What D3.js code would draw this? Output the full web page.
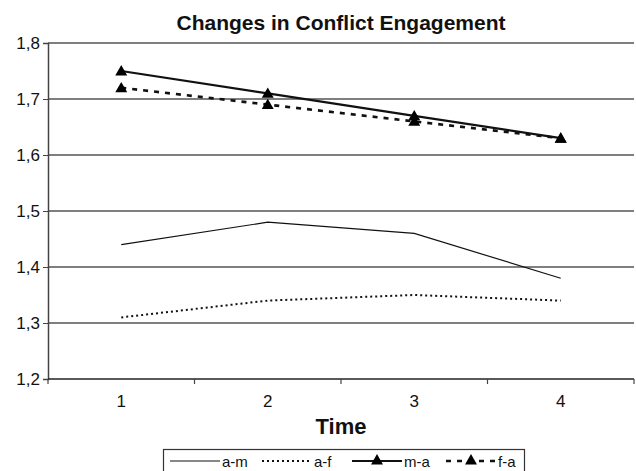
<!DOCTYPE html>
<html><head><meta charset="utf-8">
<script src="https://cdn.jsdelivr.net/npm/d3@7"></script>
<style>
html,body{margin:0;padding:0;background:#fff;}
svg{display:block;font-family:"Liberation Sans",Arial,sans-serif;}
</style></head>
<body>
<svg id="chart" width="636" height="471"></svg>
<script>
const categories = ["1", "2", "3", "4"];
const seriesNames = ["a-m", "a-f", "m-a", "f-a"];
const am = [1.44, 1.48, 1.46, 1.38];
const af = [1.31, 1.34, 1.35, 1.34];
const ma = [1.75, 1.71, 1.67, 1.63];
const fa = [1.72, 1.69, 1.66, 1.63];
const yTicks = [1.2, 1.3, 1.4, 1.5, 1.6, 1.7, 1.8];
const title = "Changes in Conflict Engagement";
const xTitle = "Time";

const series = [
  {name: seriesNames[0], values: am, width: 1.2, dash: null, marker: false},
  {name: seriesNames[1], values: af, width: 2, dash: "2,3", marker: false},
  {name: seriesNames[2], values: ma, width: 2.2, dash: null, marker: true},
  {name: seriesNames[3], values: fa, width: 2.6, dash: "5,6", marker: true}
];

const svg = d3.select("#chart");
const pLeft = 48, pRight = 634, pTop = 43, pBottom = 379;

const x = d3.scaleBand().domain(categories).range([pLeft, pRight]);
const y = d3.scaleLinear().domain([1.2, 1.8]).range([pBottom, pTop]);
const fmt = d3.formatLocale({decimal: ",", thousands: ".", grouping: [3], currency: ["", ""]}).format(".1f");

// title
svg.append("text").attr("x", (pLeft + pRight) / 2).attr("y", 30)
  .attr("text-anchor", "middle").attr("font-weight", "bold").attr("font-size", 21)
  .attr("fill", "#111").text(title);

// gridlines
svg.append("g").selectAll("line").data(yTicks.filter(d => d > 1.2)).join("line")
  .attr("x1", pLeft).attr("x2", pRight).attr("y1", d => y(d)).attr("y2", d => y(d))
  .attr("stroke", "#000").attr("stroke-width", 1.2);

// y axis
const yAxis = svg.append("g").attr("transform", `translate(${pLeft},0)`)
  .call(d3.axisLeft(y).tickValues(yTicks).tickFormat(fmt).tickSize(5).tickPadding(3));
yAxis.select(".domain").attr("stroke", "#444").attr("stroke-width", 1.5);
yAxis.selectAll(".tick line").attr("stroke", "#444");
yAxis.selectAll("text").attr("font-size", 17).attr("fill", "#111")
  .attr("font-family", "Liberation Sans, Arial, sans-serif");

// x axis line
svg.append("line").attr("x1", pLeft).attr("x2", pRight).attr("y1", pBottom).attr("y2", pBottom)
  .attr("stroke", "#222").attr("stroke-width", 1.5);
// x ticks at band boundaries
const bounds = categories.map(c => x(c)).concat([x(categories[categories.length - 1]) + x.bandwidth()]);
svg.append("g").selectAll("line").data(bounds).join("line")
  .attr("x1", d => d).attr("x2", d => d).attr("y1", pBottom).attr("y2", pBottom + 5)
  .attr("stroke", "#444").attr("stroke-width", 1.2);
// x labels
svg.append("g").selectAll("text").data(categories).join("text")
  .attr("x", d => x(d) + x.bandwidth() / 2).attr("y", 407)
  .attr("text-anchor", "middle").attr("font-size", 17).attr("fill", "#111").text(d => d);

svg.append("text").attr("x", (pLeft + pRight) / 2).attr("y", 434)
  .attr("text-anchor", "middle").attr("font-weight", "bold").attr("font-size", 22)
  .attr("fill", "#111").text(xTitle);

// lines
const cx = (d, i) => x(categories[i]) + x.bandwidth() / 2;
const line = d3.line().x(cx).y(d => y(d));
const tri = d3.symbol().type(d3.symbolTriangle).size(62);

series.forEach(s => {
  svg.append("path").datum(s.values).attr("d", line)
    .attr("fill", "none").attr("stroke", "#111").attr("stroke-width", s.width)
    .attr("stroke-dasharray", s.dash);
  if (s.marker) {
    svg.append("g").selectAll("path").data(s.values).join("path")
      .attr("d", tri).attr("transform", (d, i) => `translate(${cx(d, i)},${y(d) + 1})`)
      .attr("fill", "#000");
  }
});

// legend
const lg = svg.append("g");
lg.append("rect").attr("x", 163.5).attr("y", 449.5).attr("width", 361).attr("height", 26)
  .attr("fill", "#fff").attr("stroke", "#333").attr("stroke-width", 1.2);
const legendX = [170, 262, 352, 446];
series.forEach((s, i) => {
  const x0 = legendX[i], ly = 461;
  lg.append("line").attr("x1", x0).attr("x2", x0 + 50).attr("y1", ly).attr("y2", ly)
    .attr("stroke", "#111").attr("stroke-width", s.width).attr("stroke-dasharray", s.dash);
  if (s.marker) {
    lg.append("path").attr("d", tri).attr("transform", `translate(${x0 + 25},${ly})`).attr("fill", "#000");
  }
  lg.append("text").attr("x", x0 + 52).attr("y", 467).attr("font-size", 15).attr("fill", "#111").text(s.name);
});
</script>
</body></html>
